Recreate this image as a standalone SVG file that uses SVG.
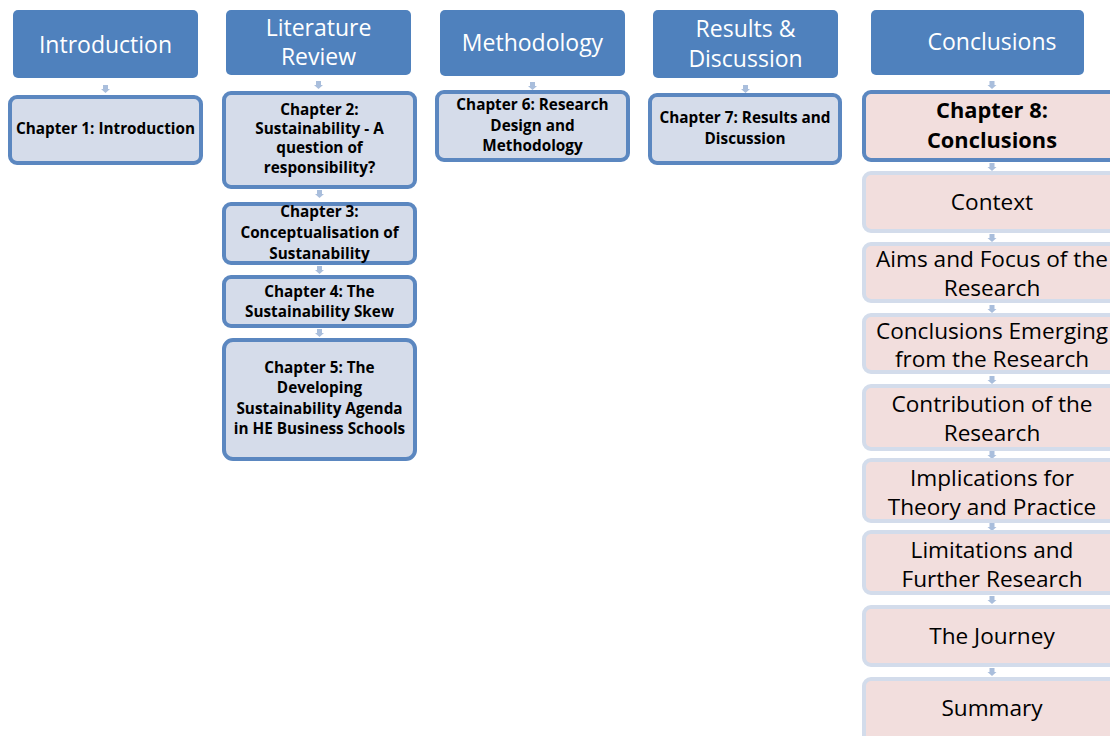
<svg xmlns="http://www.w3.org/2000/svg" width="1110" height="736" viewBox="0 0 1110 736">
  <style>
    .hdr { fill: #4F81BD; }
    .hdr-t { fill: #FFFFFF; font-family: "Open Sans", "Liberation Sans", sans-serif; font-size: 23px; text-anchor: middle; }
    .ch { fill: #D5DCEA; stroke: #5B87C0; stroke-width: 4; }
    .ch-t { fill: #000000; font-family: "Open Sans", "Liberation Sans", sans-serif; font-size: 15.3px; font-weight: bold; text-anchor: middle; }
    .sec { fill: #F2DEDD; stroke: #D3DCEB; stroke-width: 4; }
    .sec-main { fill: #F2DEDD; stroke: #5B87C0; stroke-width: 4; }
    .sec-t { fill: #000000; font-family: "Open Sans", "Liberation Sans", sans-serif; font-size: 22.6px; text-anchor: middle; }
    .sec-b { font-weight: bold; font-size: 21.8px; }
    .arr { fill: #A9BEDC; }
  </style>
  <defs>
    <path id="dn" d="M -2.5 0 h 5 v 4 h 2 l -4.5 4 l -4.5 -4 h 2 z"/>
  </defs>

  <!-- connectors -->
  <g id="connectors" class="arr">
    <use href="#dn" x="105.5" y="85"/>
    <use href="#dn" x="318.5" y="81"/>
    <use href="#dn" x="532.5" y="82"/>
    <use href="#dn" x="745.5" y="85"/>
    <use href="#dn" x="992" y="81"/>
    <use href="#dn" x="319.5" y="190"/>
    <use href="#dn" x="319.5" y="266"/>
    <use href="#dn" x="319.5" y="329"/>
    <use href="#dn" x="992" y="163"/>
    <use href="#dn" x="992" y="234"/>
    <use href="#dn" x="992" y="305"/>
    <use href="#dn" x="992" y="376"/>
    <use href="#dn" x="992" y="451"/>
    <use href="#dn" x="992" y="523"/>
    <use href="#dn" x="992" y="596"/>
    <use href="#dn" x="992" y="668"/>
  </g>

  <!-- column headers -->
  <g id="h-introduction">
    <rect class="hdr" x="13" y="10" width="185" height="68" rx="5"/>
    <text class="hdr-t" x="105.5" y="53">Introduction</text>
  </g>
  <g id="h-literature">
    <rect class="hdr" x="226" y="10" width="185" height="65" rx="5"/>
    <text class="hdr-t" x="318.5" y="36">Literature</text>
    <text class="hdr-t" x="318.5" y="65">Review</text>
  </g>
  <g id="h-methodology">
    <rect class="hdr" x="440" y="10" width="185" height="66" rx="5"/>
    <text class="hdr-t" x="532.5" y="51">Methodology</text>
  </g>
  <g id="h-results">
    <rect class="hdr" x="653" y="10" width="185" height="68" rx="5"/>
    <text class="hdr-t" x="745.5" y="37">Results &amp;</text>
    <text class="hdr-t" x="745.5" y="67">Discussion</text>
  </g>
  <g id="h-conclusions">
    <rect class="hdr" x="871" y="10" width="213" height="65" rx="5"/>
    <text class="hdr-t" x="992" y="50">Conclusions</text>
  </g>

  <!-- chapter boxes -->
  <g id="ch1">
    <rect class="ch" x="10" y="97" width="191" height="66" rx="7"/>
    <text class="ch-t" x="105.5" y="134">Chapter 1: Introduction</text>
  </g>
  <g id="ch2">
    <rect class="ch" x="224" y="93" width="191" height="94" rx="7"/>
    <text class="ch-t" x="319.5" y="115">Chapter 2:</text>
    <text class="ch-t" x="319.5" y="134">Sustainability - A</text>
    <text class="ch-t" x="319.5" y="153">question of</text>
    <text class="ch-t" x="319.5" y="173">responsibility?</text>
  </g>
  <g id="ch3">
    <rect class="ch" x="224" y="204" width="191" height="59" rx="7"/>
    <text class="ch-t" x="319.5" y="217">Chapter 3:</text>
    <text class="ch-t" x="319.5" y="238">Conceptualisation of</text>
    <text class="ch-t" x="319.5" y="259">Sustanability</text>
  </g>
  <g id="ch4">
    <rect class="ch" x="224" y="277" width="191" height="49" rx="7"/>
    <text class="ch-t" x="319.5" y="297">Chapter 4: The</text>
    <text class="ch-t" x="319.5" y="317">Sustainability Skew</text>
  </g>
  <g id="ch5">
    <rect class="ch" x="224" y="340" width="191" height="119" rx="9"/>
    <text class="ch-t" x="319.5" y="373">Chapter 5: The</text>
    <text class="ch-t" x="319.5" y="393">Developing</text>
    <text class="ch-t" x="319.5" y="414">Sustainability Agenda</text>
    <text class="ch-t" x="319.5" y="434">in HE Business Schools</text>
  </g>
  <g id="ch6">
    <rect class="ch" x="437" y="92" width="191" height="68" rx="7"/>
    <text class="ch-t" x="532.5" y="110">Chapter 6: Research</text>
    <text class="ch-t" x="532.5" y="131">Design and</text>
    <text class="ch-t" x="532.5" y="151">Methodology</text>
  </g>
  <g id="ch7">
    <rect class="ch" x="650" y="95" width="190" height="68" rx="7"/>
    <text class="ch-t" x="745" y="123">Chapter 7: Results and</text>
    <text class="ch-t" x="745" y="144">Discussion</text>
  </g>

  <!-- chapter 8 sections -->
  <g id="ch8">
    <rect class="sec-main" x="864" y="92" width="260" height="68" rx="7"/>
    <text class="sec-t sec-b" x="992" y="118">Chapter 8:</text>
    <text class="sec-t sec-b" x="992" y="148">Conclusions</text>
  </g>
  <g id="s-context">
    <rect class="sec" x="864" y="173" width="260" height="58" rx="7"/>
    <text class="sec-t" x="992" y="210">Context</text>
  </g>
  <g id="s-aims">
    <rect class="sec" x="864" y="244" width="260" height="57" rx="7"/>
    <text class="sec-t" x="992" y="267">Aims and Focus of the</text>
    <text class="sec-t" x="992" y="296">Research</text>
  </g>
  <g id="s-emerging">
    <rect class="sec" x="864" y="315" width="260" height="57" rx="7"/>
    <text class="sec-t" x="992" y="339">Conclusions Emerging</text>
    <text class="sec-t" x="992" y="367">from the Research</text>
  </g>
  <g id="s-contribution">
    <rect class="sec" x="864" y="386" width="260" height="63" rx="7"/>
    <text class="sec-t" x="992" y="412">Contribution of the</text>
    <text class="sec-t" x="992" y="441">Research</text>
  </g>
  <g id="s-implications">
    <rect class="sec" x="864" y="460" width="260" height="61" rx="7"/>
    <text class="sec-t" x="992" y="486">Implications for</text>
    <text class="sec-t" x="992" y="515">Theory and Practice</text>
  </g>
  <g id="s-limitations">
    <rect class="sec" x="864" y="532" width="260" height="61" rx="7"/>
    <text class="sec-t" x="992" y="558">Limitations and</text>
    <text class="sec-t" x="992" y="587">Further Research</text>
  </g>
  <g id="s-journey">
    <rect class="sec" x="864" y="607" width="260" height="58" rx="7"/>
    <text class="sec-t" x="992" y="644">The Journey</text>
  </g>
  <g id="s-summary">
    <rect class="sec" x="864" y="679" width="260" height="70" rx="7"/>
    <text class="sec-t" x="992" y="716">Summary</text>
  </g>
</svg>
